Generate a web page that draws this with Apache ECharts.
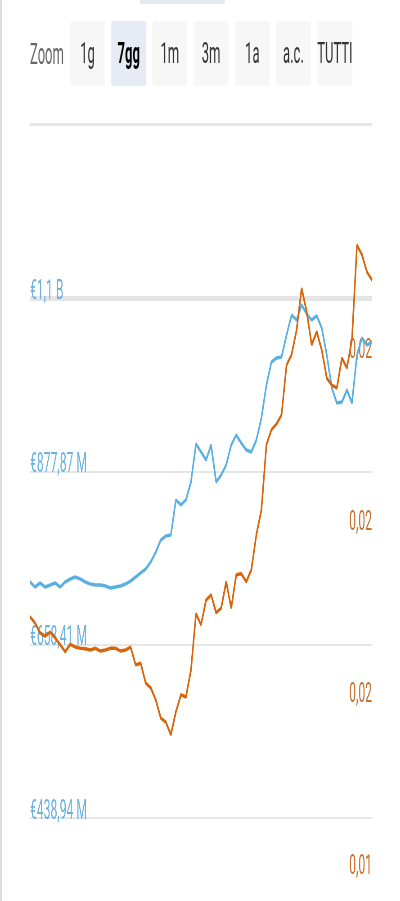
<!DOCTYPE html>
<html>
<head>
<meta charset="utf-8">
<script src="https://cdn.jsdelivr.net/npm/echarts@6/dist/echarts.min.js"></script>
<style>
  html, body { margin: 0; padding: 0; background: #fff; overflow: hidden; }
  /* the reference is horizontally squeezed: lay out wider, then scale x down */
  .page {
    position: relative;
    height: 901px;
    transform-origin: 0 0;
    font-family: Roboto, sans-serif;
  }
  .edge { position: absolute; left: 0; top: 0; height: 901px; background: #dcdcdc; }
  .tab { position: absolute; top: 0; height: 4px; background: #e4e9f0; border-radius: 0 0 4px 4px; }
  .zoom-label { position: absolute; top: 37px; font-size: 29px; color: #666; line-height: 34px; }
  .btn {
    position: absolute; top: 21px; height: 65px;
    background: #f7f7f7; border-radius: 4px;
    font-size: 29px; color: #333; text-align: center; line-height: 65px;
    white-space: nowrap;
  }
  .btn.on { background: #e6ebf5; color: #000; font-weight: bold; }
  .sep { position: absolute; top: 123px; height: 3px; background: #e6e6e6; }
  #chart { position: absolute; left: 0; top: 0; height: 901px; }
</style>
</head>
<body>
<div class="page" id="page">
  <div id="chart"></div>
  <div class="edge" id="edge"></div>
  <div class="tab" id="tab"></div>
  <div class="zoom-label" id="zoomLabel">Zoom</div>
  <div id="buttons"></div>
  <div class="sep" id="sep"></div>
</div>
<script>
// range selector
const ZOOM_BUTTONS = ['1g', '7gg', '1m', '3m', '1a', 'a.c.', 'TUTTI']
const ZOOM_SELECTED = '7gg'

// market cap (€ M), left axis
const MARKET_CAP = [
  737.8, 731.4, 736.5, 731.4, 734.0, 736.5, 731.4, 737.8, 741.6, 744.1,
  741.6, 737.8, 735.2, 734.0, 734.0, 732.7, 730.2, 731.4, 732.7, 735.2,
  739.0, 744.1, 749.2, 754.2, 763.1, 775.7, 790.9, 796.0, 797.3, 841.6,
  835.3, 841.6, 864.4, 912.5, 902.4, 892.2, 911.2, 864.4, 873.2, 885.9,
  911.2, 923.9, 913.8, 904.9, 902.4, 917.6, 945.4, 987.2, 1016.3, 1021.4,
  1022.6, 1050.5, 1075.8, 1069.5, 1088.5, 1077.1, 1069.5, 1074.6, 1059.4, 1025.2,
  983.4, 964.4, 965.7, 980.9, 964.4, 1025.2, 1046.7, 1037.8, 1041.6
]

// price (€), right axis
const PRICE = [
  0.01947, 0.01936, 0.01919, 0.01913, 0.01920, 0.01910, 0.01898, 0.01886, 0.01899, 0.01894,
  0.01892, 0.01891, 0.01889, 0.01892, 0.01887, 0.01889, 0.01892, 0.01892, 0.01887, 0.01889,
  0.01894, 0.01863, 0.01866, 0.01831, 0.01823, 0.01802, 0.01770, 0.01763, 0.01741, 0.01781,
  0.01811, 0.01807, 0.01854, 0.01952, 0.01933, 0.01976, 0.01985, 0.01954, 0.01962, 0.02008,
  0.01962, 0.02020, 0.02022, 0.02008, 0.02029, 0.02090, 0.02133, 0.02247, 0.02273, 0.02283,
  0.02299, 0.02386, 0.02404, 0.02447, 0.02520, 0.02479, 0.02421, 0.02444, 0.02412, 0.02363,
  0.02351, 0.02346, 0.02398, 0.02381, 0.02430, 0.02595, 0.02578, 0.02548, 0.02534
]

const POINTS = MARKET_CAP.map((_, i) => i)

// axis ticks
const CAP_STEP = 219.4685
const CAP_TICK_LABELS = ['€438,94 M', '€658,41 M', '€877,87 M', '€1,1 B']
const PRICE_STEP = 0.003
const PRICE_TICK_LABELS = ['0,01', '0,02', '0,02', '0,02']

const BLUE = '#5aafe3'
const ORANGE = '#d9650b'

// horizontal squeeze of the whole picture
const SX = 0.45
const W = 400 / SX
const px = v => (v / SX) + 'px'

const page = document.getElementById('page')
page.style.width = W + 'px'
page.style.transform = 'scaleX(' + SX + ')'
document.getElementById('chart').style.width = W + 'px'
const edge = document.getElementById('edge'); edge.style.width = px(2)
const tab = document.getElementById('tab'); tab.style.left = px(140); tab.style.width = px(85)
document.getElementById('zoomLabel').style.left = px(30)
const sep = document.getElementById('sep'); sep.style.left = px(30); sep.style.width = px(342)

const btnBox = document.getElementById('buttons')
ZOOM_BUTTONS.forEach(function (label, i) {
  const b = document.createElement('div')
  b.className = 'btn' + (label === ZOOM_SELECTED ? ' on' : '')
  b.style.left = px(70 + i * 41.2)
  b.style.width = px(35)
  b.textContent = label
  btnBox.appendChild(b)
})

const chart = echarts.init(document.getElementById('chart'), null, { renderer: 'canvas' })

const labelFont = { fontFamily: 'Roboto, sans-serif', fontSize: 27 }
const gridLeft = 30 / SX
const gridRight = (400 - 372) / SX

chart.setOption({
  animation: false,
  grid: [
    { left: gridLeft, right: gridRight, top: 200, bottom: 83 },
    { left: gridLeft, right: gridRight, top: 200, bottom: 28 }
  ],
  xAxis: [
    { type: 'category', gridIndex: 0, data: POINTS, boundaryGap: false, show: false },
    { type: 'category', gridIndex: 1, data: POINTS, boundaryGap: false, show: false }
  ],
  yAxis: [
    {
      type: 'value', gridIndex: 0, position: 'left', z: 2,
      min: CAP_STEP * 2, max: 1221.43, interval: CAP_STEP,
      axisLine: { show: false }, axisTick: { show: false },
      axisLabel: {
        inside: true, margin: 0, verticalAlign: 'bottom', lineHeight: 12,
        color: '#6cb2e0', ...labelFont, showMaxLabel: false,
        formatter: (v, i) => CAP_TICK_LABELS[i] || ''
      },
      splitLine: { showMaxLine: false, lineStyle: { color: '#e6e6e6', width: 2 } }
    },
    {
      type: 'value', gridIndex: 1, position: 'right', z: 2,
      min: PRICE_STEP * 5, max: 0.026738, interval: PRICE_STEP,
      axisLine: { show: false }, axisTick: { show: false },
      axisLabel: {
        inside: true, margin: 0, verticalAlign: 'bottom', lineHeight: 12,
        color: '#c9712f', ...labelFont, showMaxLabel: false,
        formatter: (v, i) => PRICE_TICK_LABELS[i] || ''
      },
      splitLine: { show: false }
    }
  ],
  series: [
    {
      // thick band under the €1,1 B gridline, kept below the axis labels
      type: 'line', data: [], xAxisIndex: 0, yAxisIndex: 0, z: 1,
      showSymbol: false,
      markLine: {
        z: 1, silent: true, symbol: 'none', label: { show: false },
        lineStyle: { color: '#e3e3e3', width: 5, type: 'solid' },
        data: [{ yAxis: CAP_STEP * 5 }]
      }
    },
    {
      name: 'Capitalizzazione', type: 'line', data: MARKET_CAP,
      xAxisIndex: 0, yAxisIndex: 0,
      showSymbol: false, lineStyle: { color: BLUE, width: 3.5 },
      itemStyle: { color: BLUE }, z: 3
    },
    {
      name: 'Prezzo', type: 'line', data: PRICE,
      xAxisIndex: 1, yAxisIndex: 1,
      showSymbol: false, lineStyle: { color: ORANGE, width: 3.5 },
      itemStyle: { color: ORANGE }, z: 4
    }
  ]
})
</script>
</body>
</html>
